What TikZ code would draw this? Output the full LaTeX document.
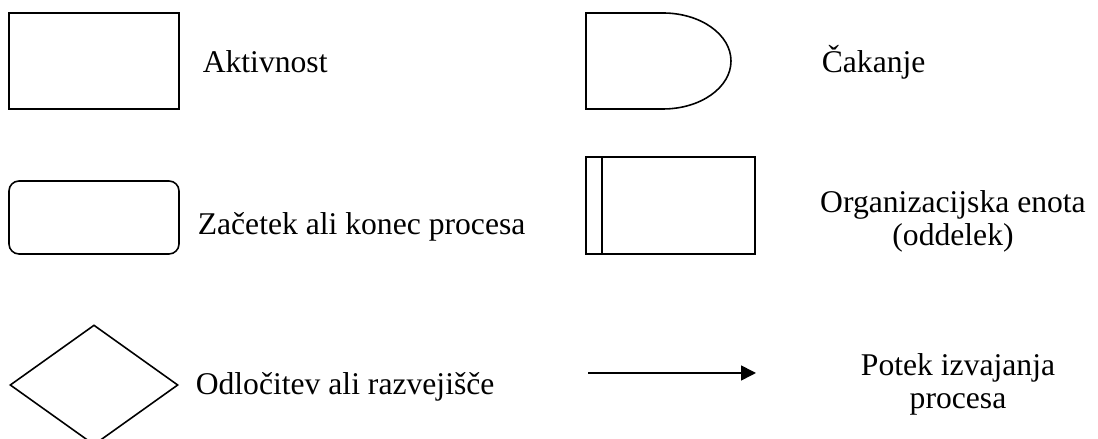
\documentclass[tikz,border=0pt]{standalone}
\usepackage{fontspec}
\setmainfont{Liberation Serif}
\usetikzlibrary{shapes.geometric,arrows.meta}

\begin{document}
\begin{tikzpicture}[x=1cm,y=1cm,line width=0.9pt,font=\fontsize{18}{18.7}\selectfont]
			\useasboundingbox (0,0) rectangle (21.96,8.78);
			% left column: activity, start/end, decision
			\node[draw,minimum width=3.4cm,minimum height=1.92cm,inner sep=0] (aktivnost) at (1.88,7.56) {};
			\node[anchor=base west,inner sep=0] (aktivnost-t) at (4.04,7.32) {Aktivnost};
			\node[draw,rounded corners=0.2cm,minimum width=3.4cm,minimum height=1.46cm,inner sep=0] (zacetek) at (1.88,4.43) {};
			\node[anchor=base west,inner sep=0] (zacetek-t) at (3.94,4.08) {Začetek ali konec procesa};
			\node[draw,diamond,minimum width=3.36cm,minimum height=2.4cm,inner sep=0] (odlocitev) at (1.88,1.08) {};
			\node[anchor=base west,inner sep=0] (odlocitev-t) at (3.9,0.88) {Odločitev ali razvejišče};
			% right column: waiting, unit, flow
			\draw (11.72,8.52)coordinate(cakanje) -- (13.26,8.52) arc[start angle=90,end angle=-90,x radius=1.36,y radius=0.96] -- (11.72,6.60) -- cycle;
			\node[anchor=base west,inner sep=0] (cakanje-t) at (16.42,7.32) {Čakanje};
			\node[draw,minimum width=3.38cm,minimum height=1.94cm,inner sep=0] (enota) at (13.41,4.67) {};
			\draw ([xshift=0.34cm]enota.north west) -- ([xshift=0.34cm]enota.south west);
			\node[align=center,inner sep=0] (enota-t) at (19.06,4.36) {Organizacijska enota\\(oddelek)};
			\coordinate (potek-a) at (11.76,1.32);
			\coordinate (potek-b) at (15.12,1.32);
			\draw[-{Triangle[length=0.3cm,width=0.3cm]}] (potek-a)--(potek-b);
			\node[align=center,inner sep=0] (potek-t) at (19.16,1.10) {Potek izvajanja\\procesa};
	\end{tikzpicture}
\end{document}
